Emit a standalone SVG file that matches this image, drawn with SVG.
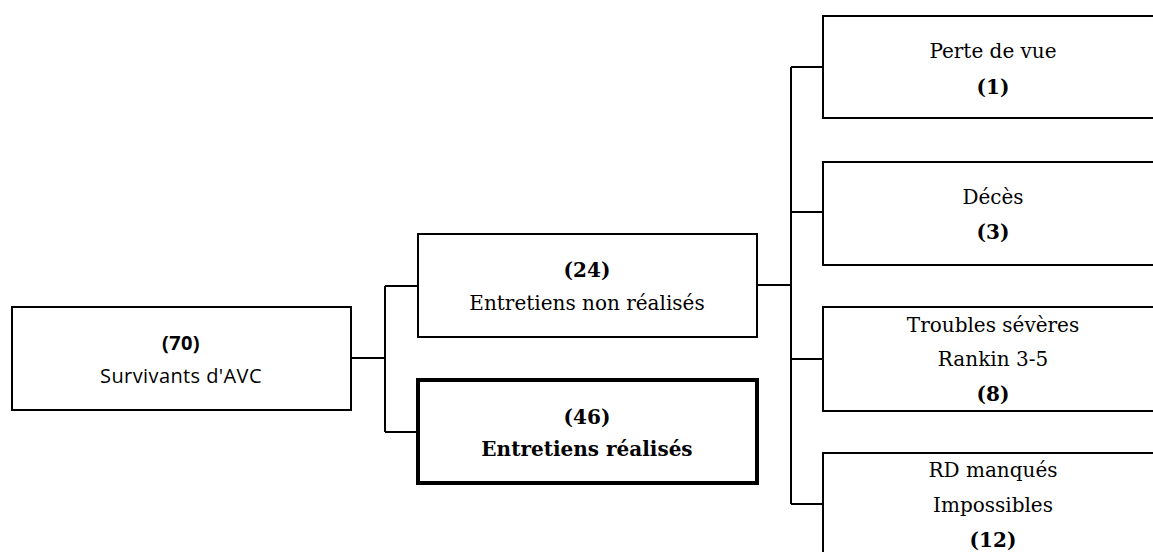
<svg xmlns="http://www.w3.org/2000/svg" width="1153" height="552" viewBox="0 0 1153 552">
<style>
.box{fill:#fff;stroke:#000;stroke-width:2}
.thick{fill:#fff;stroke:#000;stroke-width:4}
.ser{font-family:"DejaVu Serif","Liberation Serif",serif;font-size:20px;fill:#000;text-anchor:middle}
.san{font-family:"Open Sans","Liberation Sans",sans-serif;font-size:20px;fill:#000;text-anchor:middle;letter-spacing:0.4px}
.b{font-weight:bold}
.con{fill:none;stroke:#000;stroke-width:2}
</style>
<rect width="1153" height="552" fill="#fff"/>
<g id="connectors">
<path class="con" d="M351 358H385M385 286V432M385 286H418M385 432H418"/>
<path class="con" d="M758 285H791M791 67V504M791 67H823M791 212H823M791 359H823M791 504H823"/>
</g>
<g id="n70">
<rect class="box" x="12" y="307" width="339" height="103"/>
<text class="san b" x="181" y="350">(70)</text>
<text class="san" x="181" y="383">Survivants d'AVC</text>
</g>
<g id="n24">
<rect class="box" x="418" y="234" width="339" height="103"/>
<text class="ser b" x="587" y="277">(24)</text>
<text class="ser" x="587" y="310">Entretiens non réalisés</text>
</g>
<g id="n46">
<rect class="thick" x="418" y="380" width="339" height="103"/>
<text class="ser b" x="587" y="424">(46)</text>
<text class="ser b" x="587" y="456">Entretiens réalisés</text>
</g>
<g id="n1">
<rect class="box" x="823" y="16" width="360" height="102"/>
<text class="ser" x="993" y="58">Perte de vue</text>
<text class="ser b" x="993" y="94">(1)</text>
</g>
<g id="n3">
<rect class="box" x="823" y="162" width="360" height="103"/>
<text class="ser" x="993" y="204">Décès</text>
<text class="ser b" x="993" y="239">(3)</text>
</g>
<g id="n8">
<rect class="box" x="823" y="307" width="360" height="104"/>
<text class="ser" x="993" y="332">Troubles sévères</text>
<text class="ser" x="993" y="366">Rankin 3-5</text>
<text class="ser b" x="993" y="401">(8)</text>
</g>
<g id="n12">
<rect class="box" x="823" y="453" width="360" height="120"/>
<text class="ser" x="993" y="477">RD manqués</text>
<text class="ser" x="993" y="512">Impossibles</text>
<text class="ser b" x="993" y="547">(12)</text>
</g>
</svg>
